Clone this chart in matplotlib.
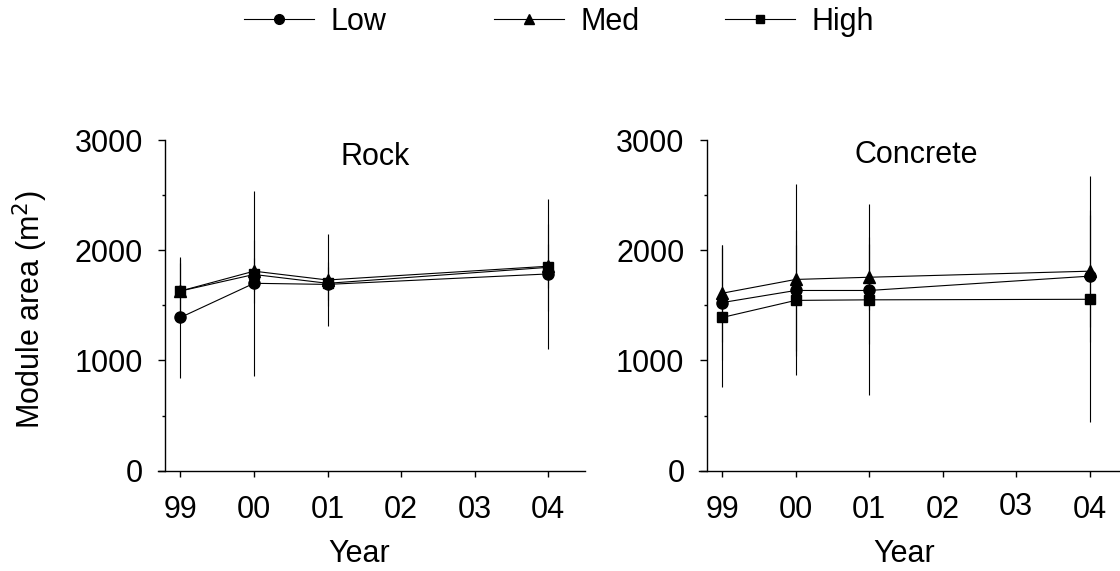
import matplotlib.pyplot as plt
import matplotlib.transforms as mtransforms
from matplotlib.lines import Line2D
from matplotlib.ticker import MultipleLocator, FixedLocator

plt.rcParams['font.family'] = ['Liberation Sans', 'DejaVu Sans']

years = [1999, 2000, 2001, 2004]
tick_years = [1999, 2000, 2001, 2002, 2003, 2004]
tick_labels = ['99', '00', '01', '02', '03', '04']

# Rock
rock_low = [1390, 1700, 1690, 1785]
rock_low_err = [545, 840, 200, 680]
rock_med = [1630, 1810, 1730, 1855]
rock_med_err = [290, 285, 420, 200]
rock_high = [1630, 1780, 1700, 1845]
rock_high_err = [250, 150, 150, 395]

# Concrete
conc_low = [1525, 1635, 1635, 1765]
conc_low_err = [520, 550, 485, 600]
conc_med = [1610, 1735, 1755, 1810]
conc_med_err = [440, 870, 300, 510]
conc_high = [1390, 1545, 1550, 1555]
conc_high_err = [630, 500, 865, 1115]

W, H = 1120, 571
FS = 22
fig = plt.figure(figsize=(11.2, 5.71), dpi=100)

ax1 = fig.add_axes([165 / W, 1 - 470.7 / H, 420 / W, 330.7 / H])
ax2 = fig.add_axes([706.7 / W, 1 - 470.7 / H, 419.8 / W, 330.7 / H])

markers = {'Low': 'o', 'Med': '^', 'High': 's'}
msizes = {'Low': 8, 'Med': 8.5, 'High': 7.5}

def panel(ax, series, title, title_base):
    for name, vals, errs in series:
        ax.errorbar(years, vals, yerr=errs, color='black', lw=0.8,
                    elinewidth=0.8, capsize=0, marker=markers[name],
                    ms=msizes[name], mfc='black', mec='black')
    ax.set_xlim(1998.79, 2004.5)
    ax.set_ylim(0, 3000)
    ax.spines['top'].set_visible(False)
    ax.spines['right'].set_visible(False)
    ax.spines['bottom'].set_bounds(1998.69, 2004.5)
    for sp in ax.spines.values():
        sp.set_linewidth(1.0)
    ax.xaxis.set_major_locator(FixedLocator(tick_years))
    ax.set_xticklabels(tick_labels)
    ax.yaxis.set_major_locator(MultipleLocator(1000))
    ax.yaxis.set_minor_locator(MultipleLocator(500))
    ax.tick_params(axis='x', direction='out', length=4.5, width=1.0,
                   labelsize=FS, pad=13)
    ax.tick_params(axis='y', which='major', direction='out', length=5,
                   width=1.0, labelsize=FS, pad=11)
    ax.tick_params(axis='y', which='minor', direction='out', length=2.5,
                   width=1.0)
    ax.text(0.5, 1 - (title_base - 140) / 330.7, title, transform=ax.transAxes,
            ha='center', va='baseline', fontsize=FS)

panel(ax1, [('Low', rock_low, rock_low_err),
            ('Med', rock_med, rock_med_err),
            ('High', rock_high, rock_high_err)], 'Rock', 165)
panel(ax2, [('Low', conc_low, conc_low_err),
            ('Med', conc_med, conc_med_err),
            ('High', conc_high, conc_high_err)], 'Concrete', 163.3)

# "03" label on the right panel sits a little higher
lbl = ax2.get_xticklabels()[4]
lbl.set_transform(lbl.get_transform() + mtransforms.ScaledTranslation(0, 3 / 100, fig.dpi_scale_trans))

fig.text(359 / W, 1 - 561.5 / H, 'Year', ha='center', va='baseline', fontsize=FS)
fig.text(904 / W, 1 - 561.5 / H, 'Year', ha='center', va='baseline', fontsize=FS)
fig.text(30 / W, 1 - 310 / H, 'Module area (m$^2$)', rotation=90,
         ha='center', va='center', fontsize=FS)

# legend, one entry at a time
leg_pos = {'Low': 244, 'Med': 494, 'High': 725}
leg_ms = {'Low': 7, 'Med': 7, 'High': 6}
for name in ['Low', 'Med', 'High']:
    h = Line2D([], [], color='black', lw=0.8, marker=markers[name],
               ms=leg_ms[name], mfc='black', mec='black')
    fig.legend([h], [name], loc='center left',
               bbox_to_anchor=(leg_pos[name] / W, 1 - 21.7 / H),
               frameon=False, fontsize=FS, handlelength=2.29,
               handletextpad=0.55, borderpad=0, borderaxespad=0)

fig.savefig('out.png', dpi=100)
